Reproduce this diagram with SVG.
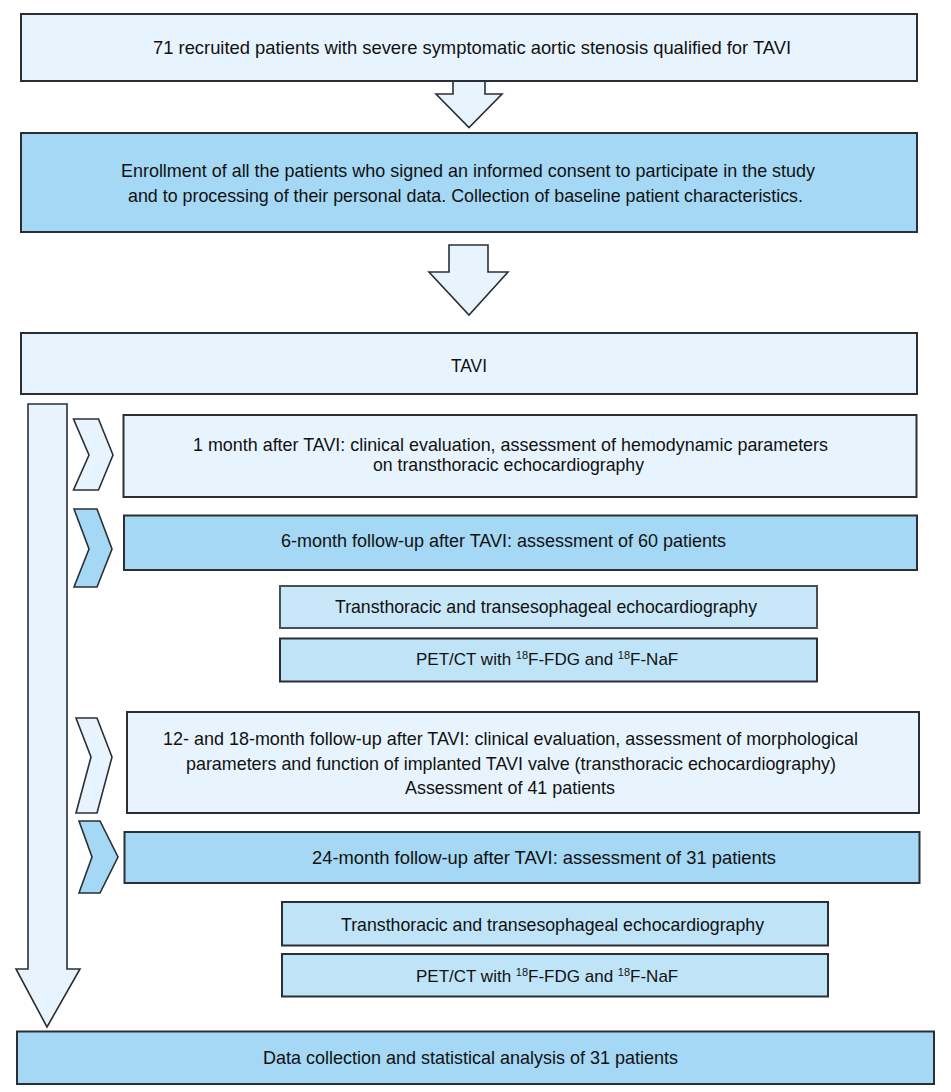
<svg xmlns="http://www.w3.org/2000/svg" width="951" height="1092" viewBox="0 0 951 1092">
<style>
.box{stroke:#2b2f35;stroke-width:2}
.l{fill:#e8f4fd}
.m{fill:#a4d8f4}
.s{fill:#bfe4f8}
.s2{fill:#c8e7f8;stroke:#4a4f55}
.arr{fill:#e8f4fd;stroke:#2b2f35;stroke-width:1.6;stroke-linejoin:miter}
text{font-family:"Liberation Sans Narrow","Liberation Sans",Arial,sans-serif;font-size:18.5px;fill:#111;text-anchor:start}
text.pet{font-size:17px}
</style>
<rect width="951" height="1092" fill="#fff"/>
<g id="connectors">
<polygon class="arr" points="453,81 485,81 485,94 502,94 469,127.5 436,94 453,94"/>
<polygon class="arr" points="449,245 488,245 488,272 508,272 469,315 429,272 449,272"/>
<polygon class="arr" points="28,404 67,404 67,969 80,969 47,1027 16,969 28,969"/>
</g>
<g id="n1"><rect class="box l" x="21" y="14" width="896" height="67"/>
<text x="153" y="54" textLength="638" lengthAdjust="spacingAndGlyphs">71 recruited patients with severe symptomatic aortic stenosis qualified for TAVI</text></g>
<g id="n2"><rect class="box m" x="21" y="133" width="896" height="99"/>
<text x="121" y="177" textLength="694" lengthAdjust="spacingAndGlyphs">Enrollment of all the patients who signed an informed consent to participate in the study</text>
<text x="128" y="202" textLength="675" lengthAdjust="spacingAndGlyphs">and to processing of their personal data. Collection of baseline patient characteristics.</text></g>
<g id="n3"><rect class="box l" x="21" y="333" width="896" height="61"/>
<text x="451" y="372" textLength="36" lengthAdjust="spacingAndGlyphs">TAVI</text></g>
<g id="chev1"><polygon class="arr" points="73.5,419 98.5,419 113,455 98.5,490 73.5,490 89,455" stroke-width="2"/></g>
<g id="n4"><rect class="box l" x="123.5" y="415" width="793" height="82"/>
<text x="193" y="451" textLength="635" lengthAdjust="spacingAndGlyphs">1 month after TAVI: clinical evaluation, assessment of hemodynamic parameters</text>
<text x="373" y="471" textLength="271" lengthAdjust="spacingAndGlyphs">on transthoracic echocardiography</text></g>
<g id="chev2"><polygon class="arr" points="74,509 97,509 112,549 97,587 74,587 89,549" style="fill:#a4d8f4" stroke-width="2"/></g>
<g id="n5"><rect class="box m" x="124" y="515.5" width="793" height="54.5"/>
<text x="281" y="547" textLength="445" lengthAdjust="spacingAndGlyphs">6-month follow-up after TAVI: assessment of 60 patients</text></g>
<g id="n6"><rect class="box s2" x="280" y="586" width="537" height="42"/>
<text x="335" y="613" textLength="422" lengthAdjust="spacingAndGlyphs">Transthoracic and transesophageal echocardiography</text></g>
<g id="n7"><rect class="box s" x="280" y="638.5" width="537" height="43"/>
<text class="pet" x="416" y="665">PET/CT with <tspan font-size="11" baseline-shift="super">18</tspan>F-FDG and <tspan font-size="11" baseline-shift="super">18</tspan>F-NaF</text></g>
<g id="chev3"><polygon class="arr" points="76,718 97,718 112,757 97,813 76,813 91,757" stroke-width="2"/></g>
<g id="n8"><rect class="box l" x="127" y="712" width="792" height="101"/>
<text x="163" y="745" textLength="695" lengthAdjust="spacingAndGlyphs">12- and 18-month follow-up after TAVI: clinical evaluation, assessment of morphological</text>
<text x="186" y="770" textLength="650" lengthAdjust="spacingAndGlyphs">parameters and function of implanted TAVI valve (transthoracic echocardiography)</text>
<text x="405" y="794" textLength="210" lengthAdjust="spacingAndGlyphs">Assessment of 41 patients</text></g>
<g id="chev4"><polygon class="arr" points="79,821 100,821 118,857 100,893 79,893 92,857" style="fill:#a4d8f4" stroke-width="2"/></g>
<g id="n9"><rect class="box m" x="124.5" y="832" width="795" height="51"/>
<text x="312" y="864" textLength="464" lengthAdjust="spacingAndGlyphs">24-month follow-up after TAVI: assessment of 31 patients</text></g>
<g id="n10"><rect class="box s" x="282" y="902" width="546" height="43.5"/>
<text x="341" y="931" textLength="423" lengthAdjust="spacingAndGlyphs">Transthoracic and transesophageal echocardiography</text></g>
<g id="n11"><rect class="box s" x="282" y="954" width="546" height="42.5"/>
<text class="pet" x="416" y="982">PET/CT with <tspan font-size="11" baseline-shift="super">18</tspan>F-FDG and <tspan font-size="11" baseline-shift="super">18</tspan>F-NaF</text></g>
<g id="n12"><rect class="box m" x="17" y="1031.5" width="917" height="52.5"/>
<text x="263" y="1064" textLength="415" lengthAdjust="spacingAndGlyphs">Data collection and statistical analysis of 31 patients</text></g>
</svg>
